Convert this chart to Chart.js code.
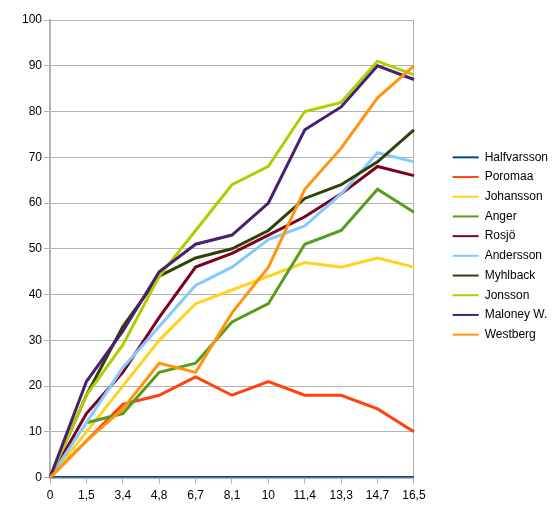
<!DOCTYPE html>
<html>
<head>
<meta charset="utf-8">
<script src="https://cdn.jsdelivr.net/npm/chart.js@4"></script>
<style>
  body { margin: 0; background: #fff; }
  #wrap { width: 555px; height: 512px; }
</style>
</head>
<body>
<div id="wrap"><canvas id="chart" width="555" height="512"></canvas></div>
<script>
const labels = ["0", "1,5", "3,4", "4,8", "6,7", "8,1", "10", "11,4", "13,3", "14,7", "16,5"];

const halfvarsson = [0, 0, 0, 0, 0, 0, 0, 0, 0, 0, 0];
const poromaa     = [0, 8, 16, 18, 22, 18, 21, 18, 18, 15, 10];
const johansson   = [0, 10, 20, 30, 38, 41, 44, 47, 46, 48, 46];
const anger       = [null, 12, 14, 23, 25, 34, 38, 51, 54, 63, 58];
const rosjo       = [0, 14, 23, 35, 46, 49, 53, 57, 62, 68, 66];
const andersson   = [0, 12, 24, 33, 42, 46, 52, 55, 62, 71, 69];
const myhlback    = [0, 18, 33, 44, 48, 50, 54, 61, 64, 69, 76];
const jonsson     = [0, 18, 29, 44, 54, 64, 68, 80, 82, 91, 88];
const maloney     = [0, 21, 32, 45, 51, 53, 60, 76, 81, 90, 87];
const westberg    = [0, 8, 15, 25, 23, 36, 46, 63, 72, 83, 90];

const names  = ["Halfvarsson", "Poromaa", "Johansson", "Anger", "Rosjö", "Andersson", "Myhlback", "Jonsson", "Maloney W.", "Westberg"];
const series = [halfvarsson, poromaa, johansson, anger, rosjo, andersson, myhlback, jonsson, maloney, westberg];
const colors = ["#004586", "#ff420e", "#ffd320", "#579d1c", "#7e0021", "#83caff", "#314004", "#aecf00", "#4b1f6f", "#ff950e"];

const gridColor = "#b3b3b3";
const font = { family: "'Liberation Sans', Arial, sans-serif", size: 12 };

const datasets = names.map((name, i) => ({
  label: name,
  data: series[i],
  borderColor: colors[i],
  backgroundColor: colors[i],
  borderWidth: 3,
  pointRadius: 0,
  tension: 0,
  fill: false,
  // later series drawn on top, like the original
  order: names.length - i
}));

// legend sits a bit away from the plot and centred on it, not on the canvas
const legendShift = {
  id: "legendShift",
  afterLayout(chart) {
    const lg = chart.legend;
    lg.left += 31;
    lg.right += 31;
    lg.top -= 18;
    lg.bottom -= 18;
  }
};

const ctx = document.getElementById("chart").getContext("2d");
new Chart(ctx, {
  type: "line",
  data: { labels: labels, datasets: datasets },
  plugins: [legendShift],
  options: {
    responsive: false,
    animation: false,
    devicePixelRatio: 1,
    layout: { padding: { left: 20, right: 28, top: 20, bottom: 4 } },
    plugins: {
      tooltip: { enabled: false },
      legend: {
        position: "right",
        labels: {
          font: font,
          color: "#000",
          usePointStyle: true,
          pointStyle: "line",
          pointStyleWidth: 26,
          padding: 7.7,
          sort: (a, b) => a.datasetIndex - b.datasetIndex,
          generateLabels: chart => Chart.defaults.plugins.legend.labels.generateLabels(chart)
            .map(item => Object.assign(item, { lineWidth: 2 }))
        }
      }
    },
    scales: {
      x: {
        type: "category",
        offset: false,
        grid: {
          color: c => c.index === labels.length - 1 ? gridColor : "transparent",
          tickColor: gridColor,
          tickLength: 6,
          lineWidth: 1
        },
        border: { color: gridColor, width: 2 },
        ticks: { font: font, color: "#000", maxRotation: 0, autoSkip: false, padding: 5 }
      },
      y: {
        min: 0,
        max: 100,
        grid: { color: gridColor, tickColor: gridColor, tickLength: 6, lineWidth: 1 },
        border: { color: gridColor, width: 2 },
        ticks: { stepSize: 10, font: font, color: "#000", padding: 2 }
      }
    }
  }
});
</script>
</body>
</html>
